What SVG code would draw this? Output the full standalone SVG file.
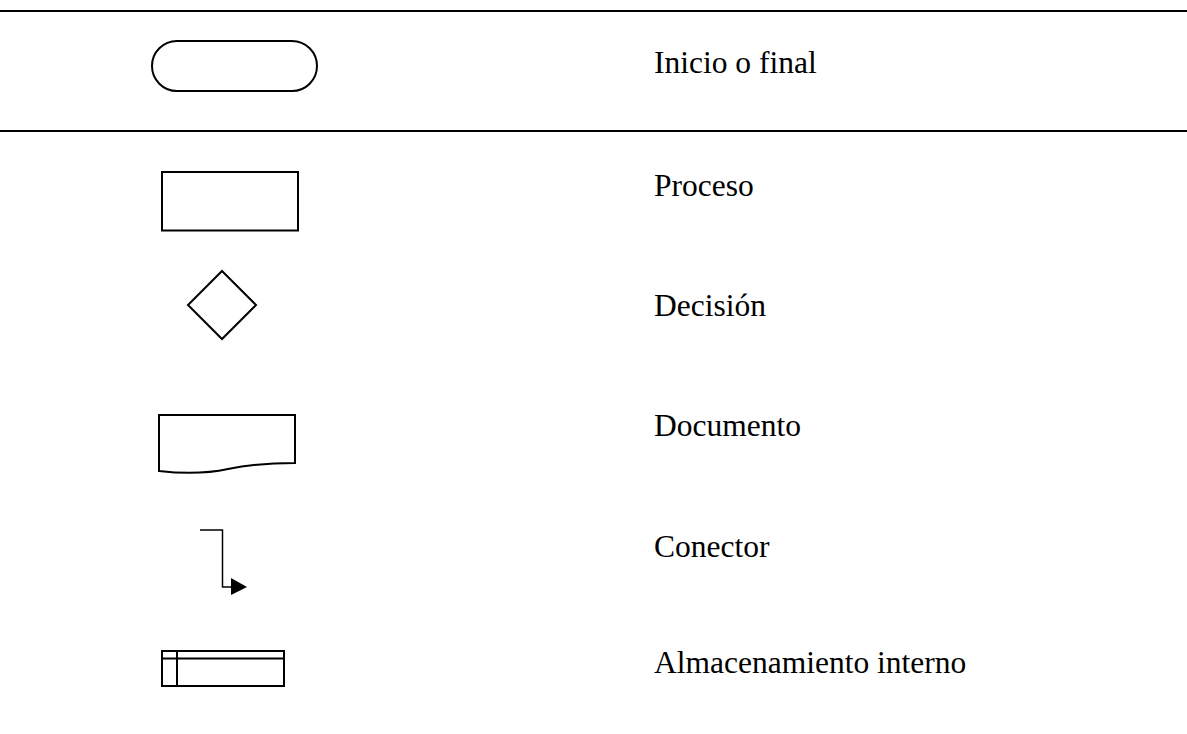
<svg xmlns="http://www.w3.org/2000/svg" width="1187" height="734" viewBox="0 0 1187 734">
<style>
.s{fill:none;stroke:#000;stroke-width:2}
.t{font-family:"Liberation Serif","Times New Roman",serif;font-size:31.5px;fill:#000}
.rule{stroke:#000;stroke-width:2}
</style>
<rect width="1187" height="734" fill="#fff"/>
<line class="rule" x1="0" y1="11" x2="1187" y2="11"/>
<line class="rule" x1="0" y1="131" x2="1187" y2="131"/>
<g id="terminal"><rect class="s" x="152" y="41" width="165" height="50" rx="25" ry="25"/><text class="t" x="654" y="73">Inicio o final</text></g>
<g id="proceso"><rect class="s" x="162" y="172" width="136" height="58.5"/><text class="t" x="654" y="196">Proceso</text></g>
<g id="decision"><polygon class="s" points="222,271 256,305 222,339 188,305"/><text class="t" x="654" y="316">Decisión</text></g>
<g id="documento"><path class="s" d="M159,415 H295 V463 C265,463 248,465 228,469 C205,474 185,474 159,471 Z"/><text class="t" x="654" y="436">Documento</text></g>
<g id="conector"><path class="s" d="M200,530 H222.5 V587 H232" style="stroke-width:1.5"/><polygon points="231,578 247,587 231,595" fill="#000"/><text class="t" x="654" y="557">Conector</text></g>
<g id="almacenamiento"><rect class="s" x="162" y="651" width="122" height="35"/><line class="s" x1="162" y1="658.5" x2="284" y2="658.5"/><line class="s" x1="177" y1="651" x2="177" y2="686"/><text class="t" x="654" y="673">Almacenamiento interno</text></g>
<g id="connectors"></g>
</svg>
